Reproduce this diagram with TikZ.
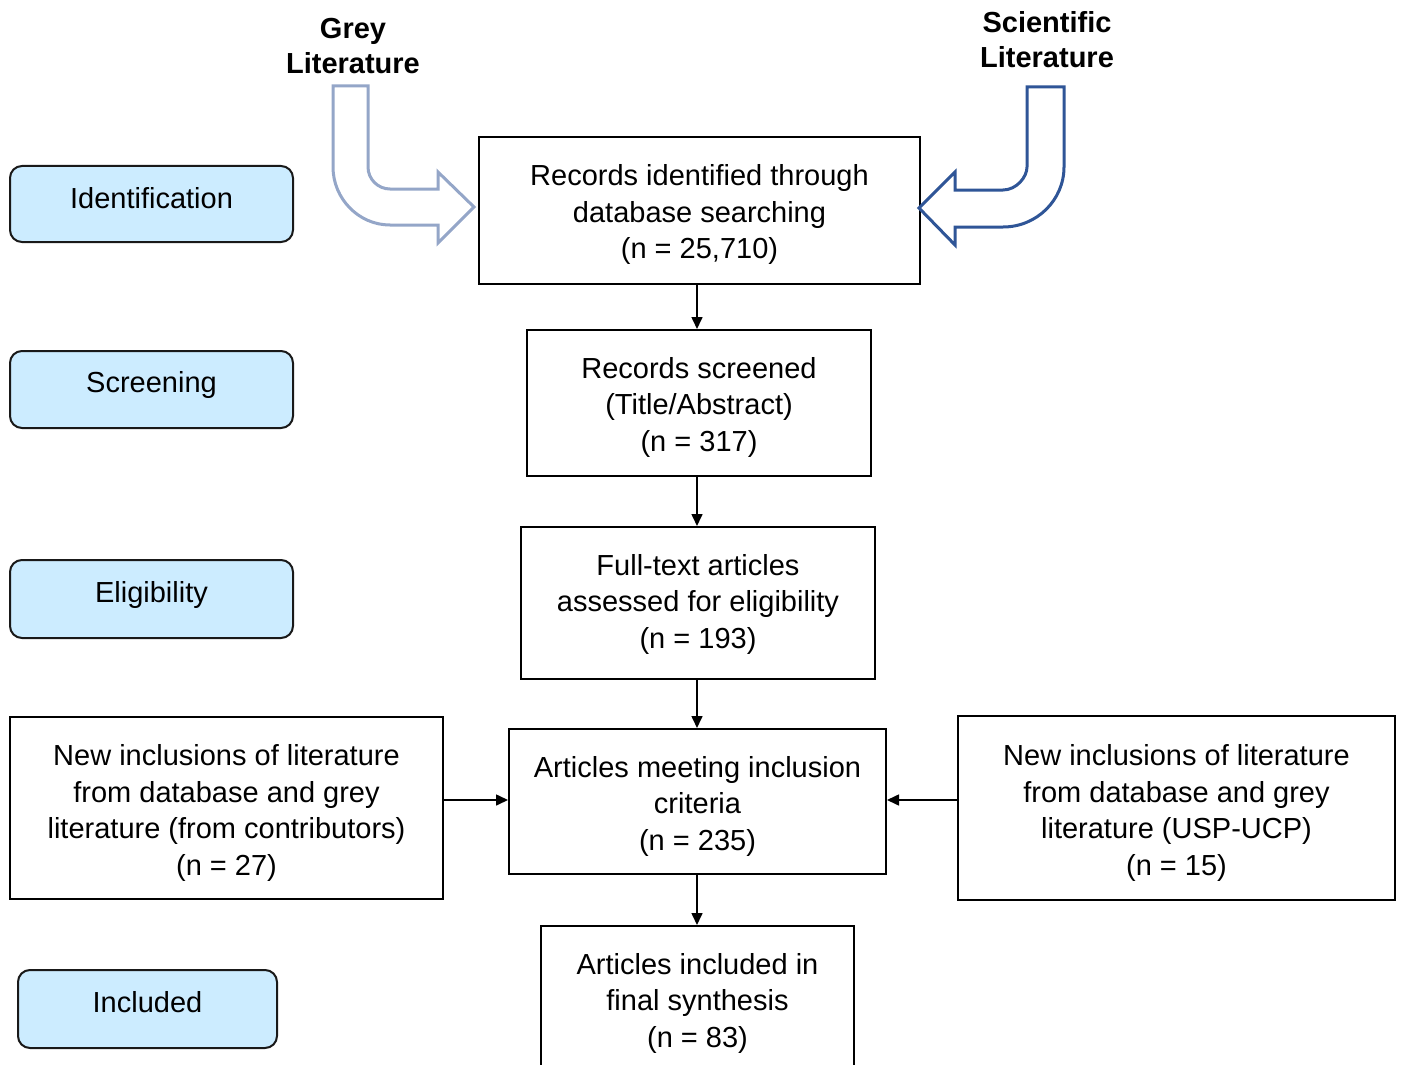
\documentclass[tikz,border=0pt]{standalone}
\usepackage{fontspec}
\setmainfont{Liberation Sans}
\usetikzlibrary{arrows.meta}
\definecolor{sidefill}{HTML}{CCECFF}
\definecolor{sciblue}{HTML}{2F5597}
\definecolor{greyarr}{HTML}{94A6C8}
\begin{document}
\begin{tikzpicture}[x=0.5pt,y=-0.5pt,
  every node/.style={font=\fontsize{14.5pt}{18.25pt}\selectfont},
  mainbox/.style={draw=black,line width=1pt,fill=white,inner sep=0pt},
  boxtext/.style={align=center,inner sep=0pt},
  sidebox/.style={draw=black!90,line width=1pt,fill=sidefill,rounded corners=6pt,inner sep=0pt,minimum width=141.5pt},
  flow/.style={line width=0.8pt,-{Triangle[length=6pt,width=5.5pt]}},
  toplabel/.style={font=\fontsize{14.5pt}{17.5pt}\selectfont\bfseries,align=center}
]
\clip (0,0) rectangle (1403,1065);
\fill[white] (0,0) rectangle (1403,1065);

% side labels
\node[sidebox,minimum height=38pt] (sid) at (151.5,204) {};
\node[boxtext] (sid-t) at ([yshift=2.8pt]sid.center) {Identification};
\node[sidebox,minimum height=38.5pt] (ssc) at (151.5,389.5) {};
\node[boxtext] (ssc-t) at ([yshift=2.2pt]ssc.center) {Screening};
\node[sidebox,minimum height=39pt] (sel) at (151.5,599) {};
\node[boxtext] (sel-t) at ([yshift=1.8pt]sel.center) {Eligibility};
\node[sidebox,minimum height=39pt,minimum width=129.5pt] (sin) at (147.5,1009) {};
\node[boxtext] (sin-t) at ([yshift=3.5pt]sin.center) {Included};

% top labels
\node[toplabel] (grey) at (353,46) {Grey\\Literature};
\node[toplabel] (sci) at (1047,39.5) {Scientific\\Literature};

% main boxes
\node[mainbox,minimum width=220.5pt,minimum height=73.5pt] (rec) at (699.5,210.5) {};
\node[boxtext] (rec-t) at ([yshift=-2pt]rec.center)
  {Records identified through\\database searching\\(n = 25,710)};
\node[mainbox,minimum width=172pt,minimum height=73pt] (scr) at (699,403) {};
\node[boxtext] (scr-t) at ([yshift=-2pt]scr.center)
  {Records screened\\(Title/Abstract)\\(n = 317)};
\node[mainbox,minimum width=177pt,minimum height=76pt] (full) at (698,603) {};
\node[boxtext] (full-t) at ([yshift=-0.6pt]full.center)
  {Full-text articles\\assessed for eligibility\\(n = 193)};
\node[mainbox,minimum width=188.5pt,minimum height=72.5pt] (meet) at (697.5,801.5) {};
\node[boxtext] (meet-t) at ([yshift=-2.4pt]meet.center)
  {Articles meeting inclusion\\criteria\\(n = 235)};
\node[mainbox,minimum width=156.5pt,minimum height=74pt] (incl) at (697.5,1000) {};
\node[boxtext] (incl-t) at ([yshift=-1.5pt]incl.center)
  {Articles included in\\final synthesis\\(n = 83)};
\node[mainbox,minimum width=216.5pt,minimum height=91pt] (left) at (226.5,808) {};
\node[boxtext] (left-t) at ([yshift=-2.5pt]left.center)
  {New inclusions of literature\\from database and grey\\literature (from contributors)\\(n = 27)};
\node[mainbox,minimum width=218.5pt,minimum height=92pt] (right) at (1176.5,808) {};
\node[boxtext] (right-t) at ([yshift=-2.5pt]right.center)
  {New inclusions of literature\\from database and grey\\literature (USP-UCP)\\(n = 15)};

% connectors
\coordinate (ax) at (697,0);
\coordinate (ay) at (0,800);
\draw[flow] (rec.south -| ax) -- (scr.north -| ax);
\draw[flow] (scr.south -| ax) -- (full.north -| ax);
\draw[flow] (full.south -| ax) -- (meet.north -| ax);
\draw[flow] (meet.south -| ax) -- (incl.north -| ax);
\draw[flow] (left.east |- ay) -- (meet.west |- ay);
\draw[flow] (right.west |- ay) -- (meet.east |- ay);

% curved block arrows
\draw[greyarr,line width=1.5pt,fill=white,line join=miter]
  (333,86) -- (368,86) -- (368,167)
  .. controls (368,179.1) and (377.9,189) .. (390,189)
  -- (438,189) -- (438,172) -- (474,207) -- (438,243) -- (438,225) -- (390,225)
  .. controls (358.5,225) and (333,198.5) .. (333,167) -- cycle;
\draw[sciblue,line width=1.5pt,fill=white,line join=miter]
  (1027,87) -- (1064,87) -- (1064,167)
  .. controls (1064,200.1) and (1036.7,227) .. (1003,227)
  -- (955,227) -- (955,245) -- (919,208) -- (955,172) -- (955,190) -- (1003,190)
  .. controls (1016.2,190) and (1027,177.3) .. (1027,167) -- cycle;
\end{tikzpicture}
\end{document}
